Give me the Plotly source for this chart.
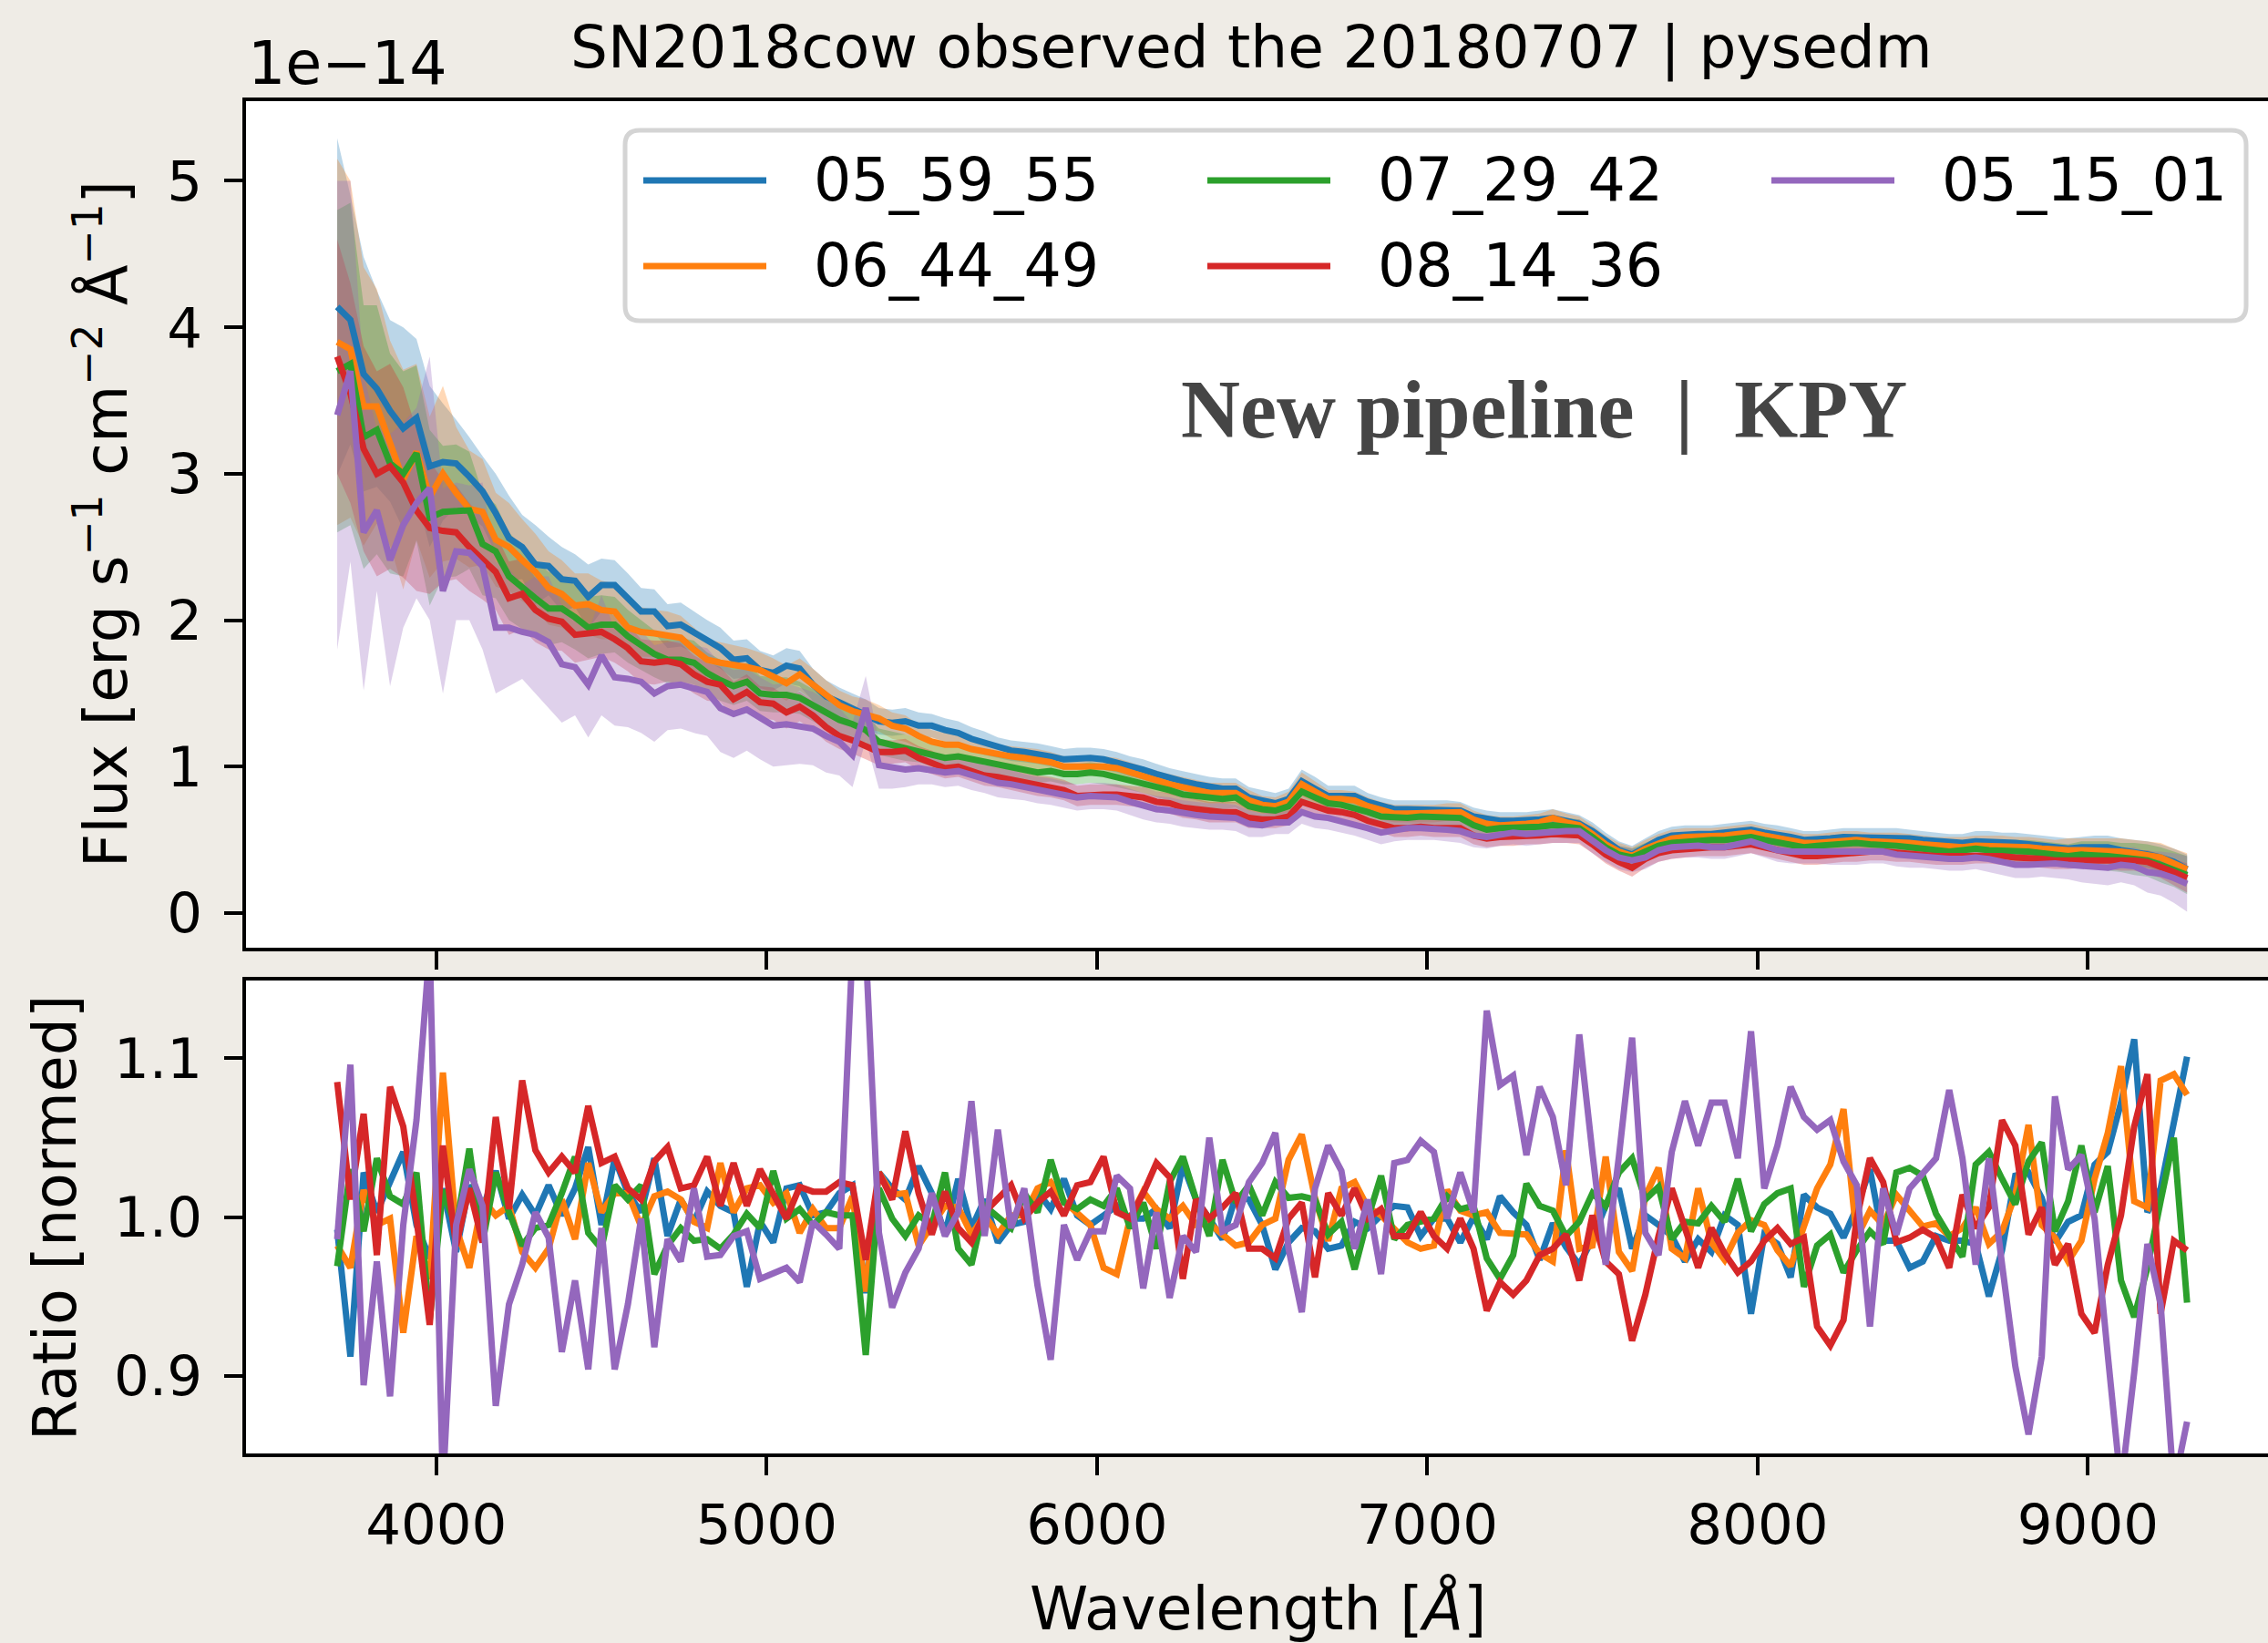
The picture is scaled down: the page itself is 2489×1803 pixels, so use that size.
import plotly.graph_objects as go

# ---------------- data ----------------
wave = list(range(3700, 9301, 40))  # Angstrom, 141 samples

names = ["05_59_55", "06_44_49", "07_29_42", "08_14_36", "05_15_01"]
colors = ["#1f77b4", "#ff7f0e", "#2ca02c", "#d62728", "#9467bd"]

# flux in units of 1e-14 erg/s/cm2/A
flux_05_59_55 = [
    4.14, 4.05, 3.68, 3.58, 3.43, 3.31, 3.38, 3.05, 3.08, 3.07,
    2.98, 2.88, 2.73, 2.56, 2.50, 2.38, 2.37, 2.28, 2.27, 2.16,
    2.24, 2.24, 2.15, 2.06, 2.06, 1.96, 1.97, 1.92, 1.86, 1.81,
    1.73, 1.74, 1.66, 1.64, 1.69, 1.67, 1.56, 1.48, 1.44, 1.40,
    1.36, 1.31, 1.30, 1.31, 1.28, 1.28, 1.25, 1.23, 1.19, 1.16,
    1.13, 1.11, 1.10, 1.09, 1.07, 1.05, 1.06, 1.06, 1.05, 1.03,
    1.00, 0.98, 0.95, 0.92, 0.90, 0.88, 0.86, 0.85, 0.85, 0.79,
    0.77, 0.75, 0.78, 0.90, 0.85, 0.80, 0.80, 0.80, 0.76, 0.73,
    0.71, 0.71, 0.71, 0.71, 0.71, 0.70, 0.66, 0.64, 0.63, 0.63,
    0.63, 0.64, 0.65, 0.63, 0.61, 0.56, 0.49, 0.43, 0.40, 0.45,
    0.50, 0.53, 0.54, 0.54, 0.54, 0.55, 0.56, 0.57, 0.55, 0.54,
    0.52, 0.50, 0.50, 0.51, 0.52, 0.52, 0.52, 0.52, 0.52, 0.51,
    0.50, 0.49, 0.48, 0.48, 0.49, 0.49, 0.48, 0.48, 0.47, 0.46,
    0.45, 0.44, 0.45, 0.45, 0.45, 0.43, 0.42, 0.40, 0.38, 0.35,
    0.30]
flux_06_44_49 = [
    3.90, 3.85, 3.46, 3.46, 3.21, 2.96, 3.15, 2.84, 3.00, 2.87,
    2.76, 2.74, 2.55, 2.50, 2.41, 2.33, 2.22, 2.18, 2.10, 2.11,
    2.07, 2.06, 1.95, 1.92, 1.91, 1.90, 1.88, 1.80, 1.73, 1.71,
    1.70, 1.68, 1.66, 1.62, 1.57, 1.63, 1.56, 1.49, 1.42, 1.38,
    1.36, 1.33, 1.28, 1.26, 1.21, 1.17, 1.15, 1.15, 1.12, 1.10,
    1.08, 1.07, 1.06, 1.05, 1.03, 1.00, 1.00, 1.01, 1.00, 0.99,
    0.96, 0.93, 0.90, 0.88, 0.86, 0.84, 0.82, 0.82, 0.82, 0.77,
    0.74, 0.73, 0.76, 0.88, 0.83, 0.78, 0.78, 0.77, 0.73, 0.70,
    0.68, 0.68, 0.68, 0.68, 0.69, 0.69, 0.64, 0.61, 0.60, 0.60,
    0.61, 0.62, 0.65, 0.62, 0.60, 0.54, 0.47, 0.42, 0.39, 0.44,
    0.48, 0.51, 0.52, 0.52, 0.52, 0.53, 0.54, 0.55, 0.53, 0.51,
    0.50, 0.48, 0.48, 0.49, 0.50, 0.50, 0.49, 0.49, 0.49, 0.48,
    0.47, 0.46, 0.45, 0.45, 0.46, 0.46, 0.46, 0.45, 0.45, 0.44,
    0.43, 0.43, 0.43, 0.43, 0.43, 0.42, 0.41, 0.40, 0.38, 0.34,
    0.30]
flux_07_29_42 = [
    3.70, 3.75, 3.25, 3.30, 3.07, 3.00, 3.14, 2.70, 2.74, 2.75,
    2.75, 2.52, 2.47, 2.30, 2.22, 2.15, 2.08, 2.08, 2.02, 1.95,
    1.97, 1.97, 1.89, 1.83, 1.77, 1.73, 1.73, 1.71, 1.64, 1.59,
    1.55, 1.58, 1.50, 1.49, 1.49, 1.47, 1.42, 1.36, 1.32, 1.29,
    1.25, 1.17, 1.15, 1.13, 1.11, 1.08, 1.06, 1.07, 1.05, 1.03,
    1.01, 0.99, 0.97, 0.96, 0.97, 0.95, 0.95, 0.96, 0.95, 0.93,
    0.91, 0.89, 0.86, 0.84, 0.81, 0.80, 0.78, 0.78, 0.79, 0.73,
    0.71, 0.70, 0.73, 0.83, 0.79, 0.75, 0.74, 0.72, 0.69, 0.66,
    0.65, 0.65, 0.66, 0.66, 0.66, 0.65, 0.60, 0.57, 0.58, 0.58,
    0.58, 0.59, 0.60, 0.59, 0.58, 0.52, 0.45, 0.40, 0.38, 0.42,
    0.46, 0.48, 0.49, 0.49, 0.50, 0.50, 0.51, 0.52, 0.50, 0.48,
    0.46, 0.45, 0.46, 0.47, 0.48, 0.48, 0.47, 0.47, 0.46, 0.45,
    0.44, 0.43, 0.42, 0.43, 0.44, 0.43, 0.43, 0.42, 0.42, 0.41,
    0.40, 0.39, 0.40, 0.40, 0.39, 0.38, 0.37, 0.36, 0.33, 0.30,
    0.26]
flux_08_14_36 = [
    3.80, 3.55, 3.17, 3.00, 3.05, 2.94, 2.75, 2.63, 2.61, 2.60,
    2.50, 2.42, 2.33, 2.15, 2.18, 2.07, 2.01, 1.99, 1.90, 1.91,
    1.92, 1.87, 1.81, 1.72, 1.71, 1.72, 1.70, 1.63, 1.58, 1.56,
    1.46, 1.51, 1.44, 1.43, 1.37, 1.41, 1.35, 1.27, 1.21, 1.18,
    1.14, 1.10, 1.10, 1.11, 1.06, 1.03, 0.99, 1.00, 0.97, 0.94,
    0.93, 0.91, 0.89, 0.87, 0.86, 0.84, 0.80, 0.81, 0.81, 0.81,
    0.80, 0.79, 0.76, 0.75, 0.72, 0.71, 0.69, 0.69, 0.69, 0.65,
    0.64, 0.64, 0.66, 0.76, 0.73, 0.70, 0.69, 0.67, 0.63, 0.61,
    0.58, 0.58, 0.59, 0.58, 0.58, 0.58, 0.53, 0.51, 0.52, 0.52,
    0.53, 0.53, 0.54, 0.54, 0.53, 0.47, 0.40, 0.35, 0.31, 0.37,
    0.41, 0.43, 0.44, 0.45, 0.45, 0.45, 0.46, 0.47, 0.45, 0.43,
    0.41, 0.39, 0.39, 0.40, 0.41, 0.41, 0.42, 0.42, 0.41, 0.41,
    0.40, 0.39, 0.39, 0.39, 0.40, 0.40, 0.39, 0.38, 0.38, 0.37,
    0.36, 0.36, 0.37, 0.37, 0.37, 0.36, 0.36, 0.35, 0.32, 0.28,
    0.24]
flux_05_15_01 = [
    3.40, 3.70, 2.60, 2.75, 2.41, 2.65, 2.80, 2.90, 2.20, 2.47,
    2.46, 2.37, 1.95, 1.95, 1.92, 1.90, 1.85, 1.70, 1.68, 1.56,
    1.76, 1.61, 1.60, 1.58, 1.50, 1.55, 1.56, 1.53, 1.51, 1.40,
    1.36, 1.39, 1.33, 1.28, 1.29, 1.28, 1.26, 1.21, 1.17, 1.08,
    1.40, 1.01, 0.99, 0.98, 0.99, 0.98, 0.96, 0.97, 0.94, 0.92,
    0.89, 0.88, 0.86, 0.84, 0.83, 0.81, 0.79, 0.80, 0.80, 0.79,
    0.76, 0.73, 0.71, 0.70, 0.68, 0.67, 0.66, 0.66, 0.65, 0.61,
    0.60, 0.62, 0.62, 0.69, 0.66, 0.65, 0.63, 0.61, 0.58, 0.55,
    0.57, 0.58, 0.58, 0.58, 0.57, 0.56, 0.53, 0.52, 0.54, 0.55,
    0.54, 0.55, 0.56, 0.56, 0.56, 0.49, 0.43, 0.38, 0.36, 0.38,
    0.43, 0.45, 0.46, 0.46, 0.45, 0.45, 0.47, 0.49, 0.46, 0.43,
    0.42, 0.42, 0.42, 0.41, 0.41, 0.41, 0.42, 0.42, 0.40, 0.39,
    0.39, 0.38, 0.37, 0.37, 0.38, 0.37, 0.35, 0.33, 0.33, 0.34,
    0.34, 0.33, 0.32, 0.31, 0.31, 0.33, 0.32, 0.28, 0.27, 0.24,
    0.20]

# 1-sigma flux errors, same units
err_05_59_55 = [
    1.15, 0.85, 0.80, 0.67, 0.62, 0.69, 0.54, 0.55, 0.40, 0.30,
    0.27, 0.24, 0.27, 0.29, 0.22, 0.27, 0.20, 0.22, 0.18, 0.22,
    0.18, 0.17, 0.17, 0.16, 0.15, 0.15, 0.15, 0.14, 0.14, 0.14,
    0.13, 0.13, 0.13, 0.12, 0.12, 0.12, 0.11, 0.11, 0.10, 0.10,
    0.10, 0.09, 0.09, 0.09, 0.09, 0.08, 0.08, 0.08, 0.08, 0.08,
    0.07, 0.07, 0.07, 0.07, 0.07, 0.07, 0.07, 0.07, 0.07, 0.07,
    0.07, 0.07, 0.07, 0.07, 0.07, 0.07, 0.07, 0.07, 0.07, 0.07,
    0.07, 0.07, 0.07, 0.08, 0.08, 0.07, 0.07, 0.07, 0.06, 0.06,
    0.06, 0.06, 0.06, 0.06, 0.06, 0.06, 0.06, 0.06, 0.06, 0.06,
    0.06, 0.06, 0.06, 0.06, 0.06, 0.06, 0.06, 0.06, 0.06, 0.06,
    0.06, 0.06, 0.06, 0.06, 0.06, 0.06, 0.06, 0.06, 0.06, 0.06,
    0.06, 0.06, 0.06, 0.06, 0.06, 0.06, 0.06, 0.06, 0.06, 0.06,
    0.06, 0.06, 0.06, 0.06, 0.07, 0.07, 0.07, 0.07, 0.07, 0.07,
    0.07, 0.07, 0.07, 0.08, 0.08, 0.08, 0.08, 0.09, 0.09, 0.09,
    0.10]
err_06_44_49 = [
    1.25, 1.15, 0.95, 0.80, 0.70, 0.75, 0.60, 0.55, 0.60, 0.45,
    0.40, 0.36, 0.32, 0.30, 0.28, 0.26, 0.25, 0.23, 0.22, 0.21,
    0.20, 0.19, 0.18, 0.17, 0.16, 0.16, 0.15, 0.15, 0.14, 0.14,
    0.13, 0.13, 0.12, 0.12, 0.12, 0.11, 0.11, 0.10, 0.10, 0.10,
    0.10, 0.09, 0.09, 0.09, 0.08, 0.08, 0.08, 0.08, 0.08, 0.08,
    0.07, 0.07, 0.07, 0.07, 0.07, 0.07, 0.07, 0.07, 0.07, 0.07,
    0.07, 0.07, 0.07, 0.07, 0.07, 0.07, 0.07, 0.07, 0.07, 0.07,
    0.06, 0.06, 0.07, 0.08, 0.07, 0.06, 0.06, 0.06, 0.06, 0.06,
    0.06, 0.06, 0.06, 0.06, 0.06, 0.06, 0.06, 0.06, 0.06, 0.06,
    0.06, 0.06, 0.06, 0.06, 0.06, 0.06, 0.06, 0.06, 0.06, 0.06,
    0.06, 0.06, 0.06, 0.06, 0.06, 0.06, 0.06, 0.06, 0.06, 0.06,
    0.06, 0.06, 0.06, 0.06, 0.06, 0.06, 0.06, 0.06, 0.06, 0.06,
    0.06, 0.06, 0.07, 0.07, 0.07, 0.07, 0.07, 0.07, 0.07, 0.07,
    0.07, 0.08, 0.08, 0.08, 0.08, 0.09, 0.09, 0.09, 0.10, 0.10,
    0.11]
err_07_29_42 = [
    1.10, 1.10, 0.90, 0.85, 0.75, 0.70, 0.60, 0.60, 0.45, 0.45,
    0.40, 0.35, 0.32, 0.30, 0.28, 0.26, 0.25, 0.23, 0.22, 0.21,
    0.20, 0.19, 0.18, 0.17, 0.16, 0.16, 0.15, 0.15, 0.14, 0.14,
    0.13, 0.13, 0.12, 0.12, 0.12, 0.11, 0.11, 0.10, 0.10, 0.10,
    0.10, 0.09, 0.09, 0.09, 0.08, 0.08, 0.08, 0.08, 0.08, 0.08,
    0.07, 0.07, 0.07, 0.07, 0.07, 0.07, 0.07, 0.07, 0.07, 0.07,
    0.07, 0.07, 0.07, 0.07, 0.07, 0.07, 0.07, 0.07, 0.07, 0.07,
    0.06, 0.06, 0.06, 0.07, 0.07, 0.06, 0.06, 0.06, 0.06, 0.06,
    0.06, 0.06, 0.06, 0.06, 0.06, 0.06, 0.06, 0.06, 0.06, 0.06,
    0.06, 0.06, 0.06, 0.06, 0.06, 0.06, 0.06, 0.06, 0.06, 0.06,
    0.06, 0.06, 0.06, 0.06, 0.06, 0.06, 0.06, 0.06, 0.06, 0.06,
    0.06, 0.06, 0.06, 0.06, 0.06, 0.06, 0.06, 0.06, 0.07, 0.07,
    0.07, 0.07, 0.07, 0.07, 0.07, 0.07, 0.07, 0.08, 0.08, 0.08,
    0.08, 0.08, 0.09, 0.09, 0.10, 0.10, 0.11, 0.11, 0.12, 0.12,
    0.13]
err_08_14_36 = [
    0.80, 0.75, 0.70, 0.70, 0.70, 0.65, 0.55, 0.45, 0.35, 0.32,
    0.30, 0.28, 0.26, 0.25, 0.24, 0.22, 0.21, 0.20, 0.19, 0.18,
    0.17, 0.16, 0.16, 0.15, 0.15, 0.14, 0.14, 0.13, 0.13, 0.12,
    0.12, 0.12, 0.11, 0.11, 0.11, 0.10, 0.10, 0.10, 0.09, 0.09,
    0.09, 0.09, 0.08, 0.08, 0.08, 0.08, 0.07, 0.07, 0.07, 0.07,
    0.07, 0.07, 0.07, 0.07, 0.07, 0.07, 0.07, 0.07, 0.07, 0.07,
    0.07, 0.07, 0.07, 0.07, 0.07, 0.07, 0.07, 0.07, 0.07, 0.07,
    0.06, 0.06, 0.06, 0.07, 0.07, 0.06, 0.06, 0.06, 0.06, 0.06,
    0.06, 0.06, 0.06, 0.06, 0.06, 0.06, 0.06, 0.06, 0.06, 0.06,
    0.06, 0.06, 0.06, 0.06, 0.06, 0.06, 0.06, 0.06, 0.06, 0.06,
    0.06, 0.06, 0.06, 0.06, 0.06, 0.06, 0.06, 0.06, 0.06, 0.06,
    0.06, 0.06, 0.06, 0.06, 0.06, 0.06, 0.06, 0.06, 0.06, 0.06,
    0.06, 0.06, 0.06, 0.06, 0.06, 0.06, 0.06, 0.06, 0.06, 0.06,
    0.06, 0.06, 0.06, 0.07, 0.07, 0.07, 0.07, 0.08, 0.08, 0.09,
    0.10]
err_05_15_01 = [
    1.60, 1.30, 1.08, 0.55, 0.86, 0.70, 0.65, 0.90, 0.70, 0.47,
    0.46, 0.57, 0.45, 0.40, 0.32, 0.40, 0.45, 0.40, 0.33, 0.36,
    0.41, 0.33, 0.33, 0.35, 0.33, 0.30, 0.30, 0.30, 0.30, 0.30,
    0.30, 0.28, 0.28, 0.28, 0.28, 0.26, 0.25, 0.25, 0.23, 0.22,
    0.22, 0.16, 0.14, 0.12, 0.11, 0.10, 0.10, 0.10, 0.10, 0.10,
    0.10, 0.10, 0.09, 0.09, 0.09, 0.09, 0.09, 0.09, 0.09, 0.09,
    0.09, 0.09, 0.09, 0.09, 0.09, 0.09, 0.09, 0.09, 0.09, 0.09,
    0.08, 0.08, 0.08, 0.08, 0.08, 0.08, 0.08, 0.08, 0.08, 0.08,
    0.08, 0.08, 0.08, 0.08, 0.08, 0.08, 0.08, 0.08, 0.08, 0.08,
    0.08, 0.08, 0.08, 0.08, 0.08, 0.08, 0.08, 0.08, 0.08, 0.08,
    0.08, 0.08, 0.08, 0.08, 0.08, 0.08, 0.08, 0.08, 0.08, 0.08,
    0.08, 0.08, 0.08, 0.08, 0.08, 0.08, 0.08, 0.08, 0.08, 0.08,
    0.08, 0.08, 0.08, 0.08, 0.08, 0.09, 0.09, 0.09, 0.09, 0.09,
    0.10, 0.10, 0.11, 0.11, 0.12, 0.12, 0.13, 0.14, 0.15, 0.17,
    0.19]

# normalised ratios (lower panel)
ratio_05_59_55 = [
    0.992, 0.912, 1.028, 1.003, 1.022, 1.041, 0.995, 0.974, 1.018, 0.978,
    1.020, 1.005, 1.029, 0.999, 1.014, 1.001, 1.020, 1.001, 1.018, 1.044,
    0.995, 1.037, 1.015, 1.003, 1.037, 0.988, 1.011, 0.997, 1.016, 1.007,
    1.003, 0.956, 0.997, 0.984, 1.018,
    1.020, 1.001, 1.003, 1.015, 1.020, 0.952, 1.028, 1.018, 1.011, 1.032,
    1.015, 0.989, 1.024, 0.993, 1.011, 0.984, 0.995, 0.997, 1.016, 1.005,
    1.024, 1.001, 0.995, 1.001, 1.007, 0.999, 0.999, 1.005, 0.993, 1.033,
    1.011, 0.999, 0.986, 1.013, 1.011,
    0.995, 0.967, 0.984, 0.993, 0.991, 0.980, 0.982, 0.997, 0.993, 1.001,
    1.007, 1.006, 0.988, 0.999, 0.999, 0.984, 1.000, 0.986, 1.013, 1.003,
    0.995, 0.973, 0.996, 0.981, 0.970, 0.986, 1.007, 1.018, 0.980, 1.001,
    0.995, 0.988, 0.972, 0.986, 0.978,
    1.001, 0.995, 0.939, 0.989, 0.983, 0.962, 1.014, 1.006, 1.002, 0.987,
    1.006, 1.030, 0.985, 0.985, 0.968, 0.972, 0.988, 0.985, 0.985, 0.983,
    0.950, 0.979, 1.026, 1.028, 1.012, 0.984, 0.997, 1.001, 1.033, 1.041,
    1.072, 1.112, 1.003, 1.018, 1.062, 1.101]
ratio_06_44_49 = [
    0.982, 0.968, 1.017, 0.995, 0.999, 0.927, 0.988, 0.961, 1.091, 0.993,
    0.968, 1.011, 1.001, 1.007, 0.978, 0.968, 0.980, 1.011, 0.986, 1.034,
    1.003, 1.015, 1.015, 0.994, 1.013, 1.016, 1.011, 0.997, 0.993, 1.034,
    1.003, 1.018, 1.020, 1.009, 1.015,
    0.990, 1.005, 0.993, 0.993, 1.013, 0.953, 1.028, 1.014, 1.015, 0.982,
    0.995, 1.007, 1.006, 0.989, 1.001, 0.989, 1.001, 1.001, 1.018, 1.022,
    1.010, 1.003, 0.995, 0.968, 0.964, 0.999, 1.016, 1.005, 0.999, 1.007,
    0.995, 0.996, 0.989, 0.982, 0.984,
    0.995, 0.999, 1.036, 1.052, 1.012, 0.985, 1.018, 1.022, 1.006, 1.001,
    0.992, 0.984, 0.980, 0.982, 1.017, 1.004, 1.001, 1.003, 0.990, 0.990,
    0.989, 0.977, 0.972, 1.042, 0.980, 0.982, 1.038, 0.978, 0.966, 1.013,
    1.031, 0.980, 0.974, 1.018, 0.984,
    0.973, 0.990, 0.998, 0.995, 0.979, 0.969, 0.994, 1.018, 1.033, 1.068,
    0.987, 1.004, 0.995, 1.014, 1.004, 0.994, 0.996, 0.988, 0.993, 1.006,
    0.983, 0.991, 1.014, 1.058, 0.995, 0.987, 0.972, 0.985, 1.024, 1.053,
    1.095, 1.010, 1.006, 1.086, 1.090, 1.077]
ratio_07_29_42 = [
    0.969, 1.030, 0.991, 1.037, 1.013, 1.008, 1.028, 0.935, 1.017, 0.993,
    1.043, 0.984, 1.028, 1.003, 0.982, 0.993, 0.995, 1.015, 1.038, 0.990,
    0.980, 1.020, 1.011, 1.020, 0.964, 0.982, 0.993, 0.985, 0.986, 0.980,
    0.989, 1.002, 0.993, 1.029, 0.999,
    1.005, 0.995, 1.003, 1.001, 1.001, 0.913, 1.018, 0.999, 0.988, 1.001,
    0.995, 1.028, 0.980, 0.970, 1.007, 1.000, 0.993, 1.015, 1.003, 1.036,
    1.009, 1.005, 1.011, 1.007, 1.018, 0.993, 1.009, 0.980, 1.022, 1.038,
    1.011, 0.988, 1.036, 1.009, 1.020,
    1.001, 1.022, 1.012, 1.013, 1.011, 0.989, 0.997, 0.967, 0.999, 1.026,
    0.986, 0.995, 0.997, 0.999, 1.013, 1.005, 1.007, 0.974, 0.961, 0.976,
    1.021, 1.007, 1.004, 0.988, 0.997, 1.015, 1.007, 1.028, 1.037, 1.011,
    1.019, 0.986, 0.997, 0.996, 1.007,
    0.997, 1.024, 0.991, 1.008, 1.015, 1.018, 0.956, 0.982, 0.989, 0.965,
    0.979, 0.991, 0.983, 1.028, 1.031, 1.026, 1.002, 0.988, 0.975, 1.033,
    1.041, 1.024, 1.008, 1.035, 1.047, 0.991, 1.010, 1.045, 1.003, 1.032,
    0.960, 0.937, 0.968, 1.010, 1.050, 0.946]
ratio_08_14_36 = [
    1.085, 1.011, 1.065, 0.976, 1.082, 1.057, 0.999, 0.932, 1.045, 0.982,
    1.018, 0.984, 1.063, 1.005, 1.086, 1.042, 1.028, 1.038, 1.028, 1.070,
    1.034, 1.038, 1.018, 1.011, 1.035, 1.044, 1.018, 1.020, 1.038, 1.007,
    1.034, 1.007, 1.030, 1.015, 0.999,
    1.019, 1.016, 1.016, 1.022, 1.020, 0.973, 1.028, 1.011, 1.054, 1.015,
    0.989, 1.016, 0.993, 0.984, 1.003, 1.011, 1.020, 0.999, 1.009, 1.016,
    1.001, 1.020, 1.022, 1.038, 1.003, 0.999, 1.015, 1.034, 1.025, 0.961,
    1.011, 0.999, 1.006, 1.015, 0.980,
    0.980, 0.974, 0.999, 1.009, 0.962, 1.015, 1.001, 1.018, 0.999, 1.005,
    0.988, 0.988, 1.003, 0.988, 0.980, 0.999, 0.980, 0.941, 0.959, 0.951,
    0.960, 0.976, 0.980, 0.989, 0.960, 1.001, 0.972, 0.964, 0.922, 0.951,
    0.988, 1.018, 0.993, 0.968, 0.993,
    0.977, 0.965, 0.972, 0.985, 0.993, 0.983, 0.987, 0.931, 0.919, 0.935,
    0.999, 1.037, 1.022, 0.984, 0.987, 0.992, 0.987, 0.968, 1.014, 0.993,
    1.006, 1.061, 1.045, 0.989, 1.006, 0.970, 0.983, 0.939, 0.927, 0.970,
    1.001, 1.057, 1.090, 0.939, 0.985, 0.979]
ratio_05_15_01 = [
    0.986, 1.096, 0.894, 0.972, 0.887, 0.995, 1.061, 1.170, 0.830, 0.995,
    1.030, 1.007, 0.881, 0.945, 0.970, 1.003, 0.987, 0.915, 0.960, 0.904,
    0.993, 0.904, 0.945, 0.999, 0.918, 0.986, 0.972, 1.018, 0.975, 0.976,
    0.988, 0.991, 0.961, 0.964, 0.968,
    0.959, 0.997, 0.989, 0.980, 1.170, 1.170, 0.990, 0.943, 0.965, 0.980,
    1.015, 0.988, 1.003, 1.073, 0.988, 1.055, 0.993, 1.018, 0.957, 0.910,
    0.995, 0.973, 0.991, 0.991, 1.026, 1.018, 0.955, 1.003, 0.949, 0.988,
    0.978, 1.050, 0.991, 0.995, 1.022,
    1.034, 1.053, 0.980, 0.940, 1.018, 1.045, 1.029, 0.980, 1.011, 0.964,
    1.034, 1.036, 1.048, 1.041, 0.999, 1.028, 1.003, 1.130, 1.083, 1.089,
    1.039, 1.082, 1.063, 1.020, 1.115, 1.040, 0.970, 1.038, 1.113, 0.990,
    0.976, 1.041, 1.073, 1.045, 1.072,
    1.072, 1.037, 1.117, 1.018, 1.045, 1.082, 1.063, 1.055, 1.061, 1.035,
    1.020, 0.931, 1.018, 0.989, 1.018, 1.028, 1.037, 1.080, 1.037, 0.970,
    1.037, 0.970, 0.906, 0.863, 0.912, 1.076, 1.030, 1.039, 0.999, 0.913,
    0.830, 0.902, 0.983, 0.945, 0.830, 0.871]

fluxes = [flux_05_59_55, flux_06_44_49, flux_07_29_42, flux_08_14_36, flux_05_15_01]
errors = [err_05_59_55, err_06_44_49, err_07_29_42, err_08_14_36, err_05_15_01]
ratios = [ratio_05_59_55, ratio_06_44_49, ratio_07_29_42, ratio_08_14_36, ratio_05_15_01]

title_text = "SN2018cow observed the 20180707 | pysedm"
watermark = "New pipeline  |  KPY"
xticks = [4000, 5000, 6000, 7000, 8000, 9000]

# ---------------- layout geometry ----------------
W, H = 2489, 1803
L, R, T, B = 270, 0, 111, 208
PW, PH = W - L - R, H - T - B


def fx(px):
    return (px - L) / PW


def fy(py):
    return (H - B - py) / PH


FONT = "DejaVu Sans"
FS_TICK = 61
FS_LAB = 65
LW = 7


def rgba(hexc, a):
    h = hexc.lstrip("#")
    return "rgba(%d,%d,%d,%.2f)" % (int(h[0:2], 16), int(h[2:4], 16), int(h[4:6], 16), a)


fig = go.Figure()

# error bands first
for name, col, f, e in zip(names, colors, fluxes, errors):
    upper = [a + b for a, b in zip(f, e)]
    lower = [a - b for a, b in zip(f, e)]
    fig.add_trace(go.Scatter(
        x=wave + wave[::-1], y=upper + lower[::-1], xaxis="x2", yaxis="y2",
        fill="toself", fillcolor=rgba(col, 0.3), line=dict(width=0),
        mode="lines", hoverinfo="skip", showlegend=False))
# then spectra
for name, col, f in zip(names, colors, fluxes):
    fig.add_trace(go.Scatter(
        x=wave, y=f, xaxis="x2", yaxis="y2", mode="lines", name=name,
        line=dict(color=col, width=LW), showlegend=False))

for name, col, r in zip(names, colors, ratios):
    fig.add_trace(go.Scatter(
        x=wave, y=r, xaxis="x", yaxis="y", mode="lines", name=name,
        line=dict(color=col, width=LW), showlegend=False))

axis_common = dict(
    showline=True, linecolor="black", linewidth=3.5,
    ticks="outside", ticklen=20, tickwidth=3.5, tickcolor="black",
    showgrid=False, zeroline=False,
    tickfont=dict(family=FONT, size=FS_TICK, color="black"),
)

top_dom0 = fy(1040)
bot_dom1 = fy(1076)

fig.update_layout(
    width=W, height=H,
    margin=dict(l=L, r=R, t=T, b=B, pad=0),
    paper_bgcolor="#efece6", plot_bgcolor="white",
    showlegend=False,
    xaxis=dict(domain=[0, 1], anchor="y", range=[3424, 9545], tickvals=xticks,
               mirror=True, ticklabelstandoff=2, **axis_common),
    xaxis2=dict(domain=[0, 1], anchor="y2", range=[3424, 9545], tickvals=xticks,
                matches="x", showticklabels=False, mirror=True, **axis_common),
    yaxis=dict(domain=[0, bot_dom1], anchor="x", range=[0.851, 1.149],
               tickvals=[0.9, 1.0, 1.1], ticktext=["0.9", "1.0", "1.1"],
               ticklabelstandoff=12, **axis_common),
    yaxis2=dict(domain=[top_dom0, 1], anchor="x2", range=[-0.236, 5.544],
                tickvals=[0, 1, 2, 3, 4, 5], ticklabelstandoff=12, **axis_common),
)

ann = []
ann.append(dict(text=title_text, x=fx(1373), y=fy(52), xref="paper", yref="paper",
                xanchor="center", yanchor="middle", showarrow=False,
                font=dict(family=FONT, size=64.5, color="black")))
ann.append(dict(text="1e\u221214", x=0, y=fy(70), xref="paper", yref="paper",
                xanchor="left", yanchor="middle", showarrow=False,
                font=dict(family=FONT, size=FS_LAB, color="black")))
ann.append(dict(text="Flux [erg s<sup>\u22121</sup> cm<sup>\u22122</sup> \u00c5<sup>\u22121</sup>]",
                x=fx(112), y=fy(575), xref="paper", yref="paper", textangle=-90,
                xanchor="center", yanchor="middle", showarrow=False,
                font=dict(family=FONT, size=FS_LAB, color="black")))
ann.append(dict(text="Ratio [normed]", x=fx(60), y=fy(1337), xref="paper", yref="paper",
                textangle=-90, xanchor="center", yanchor="middle", showarrow=False,
                font=dict(family=FONT, size=FS_LAB, color="black")))
ann.append(dict(text="Wavelength [<i>\u00c5</i>]", x=fx(1380), y=fy(1765), xref="paper",
                yref="paper", xanchor="center", yanchor="middle", showarrow=False,
                font=dict(family=FONT, size=FS_LAB, color="black")))
ann.append(dict(text="<b>" + watermark + "</b>", x=fx(1694), y=fy(449), xref="paper",
                yref="paper", xanchor="center", yanchor="middle", showarrow=False,
                font=dict(family="Liberation Serif", size=90, color="#454545")))

shapes = []
# legend frame (rounded rectangle)
x0, x1, y0, y1, rr = fx(686), fx(2465), fy(352), fy(143), 16
rx, ry = rr / PW, rr / PH
path = ("M {a},{b} L {c},{b} Q {d},{b} {d},{e} L {d},{f} Q {d},{g} {c},{g} "
        "L {a},{g} Q {h},{g} {h},{f} L {h},{e} Q {h},{b} {a},{b} Z").format(
    a=x0 + rx, b=y0, c=x1 - rx, d=x1, e=y0 + ry, f=y1 - ry, g=y1, h=x0)
shapes.append(dict(type="path", path=path, xref="paper", yref="paper",
                   fillcolor="white", line=dict(color="#d4d4d4", width=5), layer="above"))

leg_pos = [(706, 198), (706, 292), (1325, 198), (1325, 292), (1944, 198)]
for (lx, ly), name, col in zip(leg_pos, names, colors):
    shapes.append(dict(type="line", xref="paper", yref="paper",
                       x0=fx(lx), x1=fx(lx + 135), y0=fy(ly), y1=fy(ly),
                       line=dict(color=col, width=7), layer="above"))
    ann.append(dict(text=name, x=fx(lx + 185), y=fy(ly), xref="paper", yref="paper",
                    xanchor="left", yanchor="middle", showarrow=False,
                    font=dict(family=FONT, size=FS_LAB, color="black")))

fig.update_layout(annotations=ann, shapes=shapes)
fig.write_html("out.html")
